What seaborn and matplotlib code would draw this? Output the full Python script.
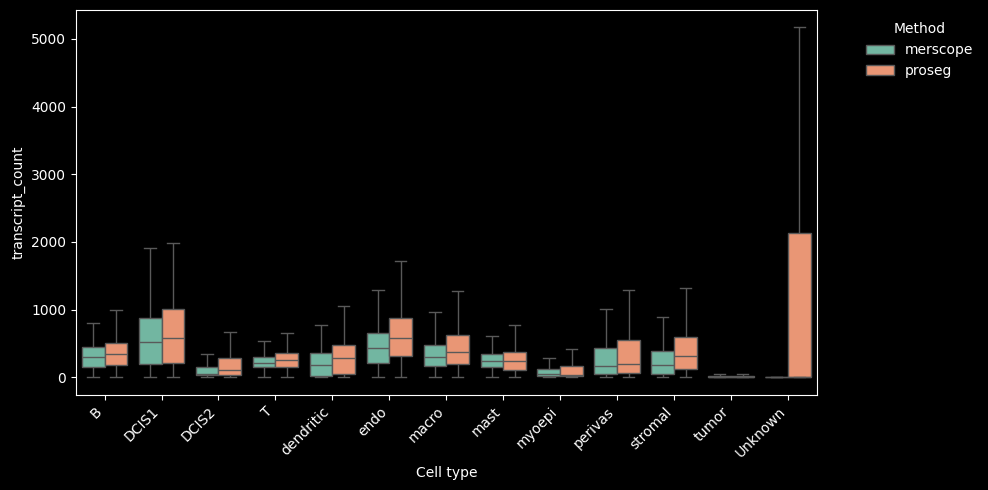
import seaborn as sns
import numpy as np
import pandas as pd
import matplotlib.pyplot as plt

cell_types = ["B", "DCIS1", "DCIS2", "T", "dendritic", "endo", "macro", "mast",
              "myoepi", "perivas", "stromal", "tumor", "Unknown"]
methods = ["merscope", "proseg"]

# five-number summaries (min, q1, median, q3, max)
merscope_stats = [
    [5, 148, 296, 454, 809],
    [5, 202, 528, 883, 1904],
    [3, 30, 49, 158, 350],
    [5, 148, 217, 306, 543],
    [5, 20, 188, 365, 779],
    [5, 217, 429, 656, 1297],
    [5, 163, 306, 478, 972],
    [5, 158, 241, 345, 611],
    [3, 20, 45, 128, 291],
    [5, 54, 173, 439, 1016],
    [5, 54, 188, 394, 898],
    [2, 5, 12, 20, 54],
    [0, 0, 1, 2, 4],
]
proseg_stats = [
    [5, 188, 350, 513, 991],
    [5, 217, 587, 1016, 1992],
    [5, 40, 114, 291, 676],
    [5, 158, 256, 365, 661],
    [5, 54, 281, 478, 1060],
    [5, 321, 587, 878, 1726],
    [5, 197, 375, 626, 1282],
    [5, 114, 246, 375, 779],
    [3, 20, 40, 173, 424],
    [5, 69, 202, 557, 1297],
    [5, 118, 321, 602, 1327],
    [2, 5, 12, 20, 54],
    [0, 5, 12, 2140, 5170],
]

rows = []
for m, stats in zip(methods, [merscope_stats, proseg_stats]):
    for ct, vals in zip(cell_types, stats):
        for v in vals:
            rows.append({"Cell type": ct, "Method": m, "transcript_count": v})
df = pd.DataFrame(rows)

plt.style.use("dark_background")
fig, ax = plt.subplots(figsize=(9.88, 4.9), dpi=100)

sns.boxplot(data=df, x="Cell type", y="transcript_count", hue="Method",
            order=cell_types, hue_order=methods, palette="Set2",
            whis=(0, 100), showfliers=False, ax=ax)

ax.set_xticks(range(len(cell_types)))
ax.set_xticklabels(cell_types, rotation=45, ha="right")
sns.move_legend(ax, "upper left", bbox_to_anchor=(1.05, 1), frameon=False, title="Method")

fig.subplots_adjust(left=0.077, right=0.8265, top=0.98, bottom=0.194)
plt.savefig("out.png", dpi=100)
